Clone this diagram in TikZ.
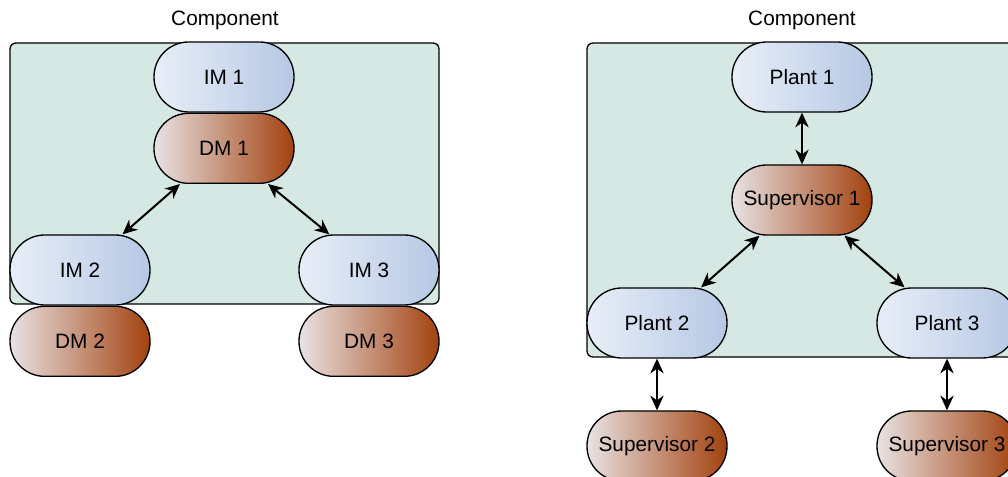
\documentclass[tikz,border=0pt]{standalone}
\usepackage{fontspec}
\setmainfont{Liberation Sans}
\usepackage{xcolor}
\usepackage{tikz}
\usetikzlibrary{arrows.meta,positioning}
\definecolor{compTeal}{HTML}{D5E8E4}
\definecolor{imLight}{HTML}{E8EEF8}
\definecolor{imDark}{HTML}{B6C8E4}
\definecolor{dmLight}{HTML}{E8E2E2}
\definecolor{dmDark}{HTML}{A3420F}

\begin{document}
\begin{tikzpicture}[
  x=0.75pt,y=-0.75pt,
  every node/.style={font=\fontsize{15.6}{18}\selectfont},
  comp/.style={draw=black,fill=compTeal,line width=1pt,rounded corners=4.5pt},
  pill/.style={rectangle,rounded corners=26pt,draw=black,line width=1pt,minimum width=105pt,minimum height=52.5pt,inner sep=0pt,align=center},
  imbox/.style={pill,left color=imLight,right color=imDark},
  dmbox/.style={pill,left color=dmLight,right color=dmDark},
  link/.style={{Stealth[length=11pt,width=10pt,inset=3.5pt]}-{Stealth[length=11pt,width=10pt,inset=3.5pt]},line width=1.5pt}
]
\useasboundingbox (0,0) rectangle (1008,477);
\clip (0,0) rectangle (1008,477);

% left component
\node (titleL) at (225,20) {Component};
\draw[comp] (10,43) rectangle (439,304);
\node[imbox] (im1) at (224,77) {IM 1};
\node[dmbox,below=0pt of im1] (dm1) {DM 1};
\node[imbox] (im2) at (80,270) {IM 2};
\node[dmbox,below=0pt of im2] (dm2) {DM 2};
\node[imbox] (im3) at (369,270) {IM 3};
\node[dmbox,below=0pt of im3] (dm3) {DM 3};
\draw[link] (dm1.219) -- (im2.40);
\draw[link] (dm1.321) -- (im3.138);

% right component
\node (titleR) at (802,20) {Component};
\draw[comp] (587,43) rectangle (1017,357);
\node[imbox] (plant1) at (802,77) {Plant 1};
\node[dmbox] (sup1) at (802,200) {Supervisor 1};
\node[imbox] (plant2) at (657,323) {Plant 2};
\node[imbox] (plant3) at (947,323) {Plant 3};
\node[dmbox] (sup2) at (657,446) {Supervisor 2};
\node[dmbox] (sup3) at (947,446) {Supervisor 3};
\draw[link] (plant1) -- (sup1);
\draw[link] (sup1.220) -- (plant2.39);
\draw[link] (sup1.320) -- (plant3.140);
\draw[link] (plant2) -- (sup2);
\draw[link] (plant3) -- (sup3);
\end{tikzpicture}
\end{document}
